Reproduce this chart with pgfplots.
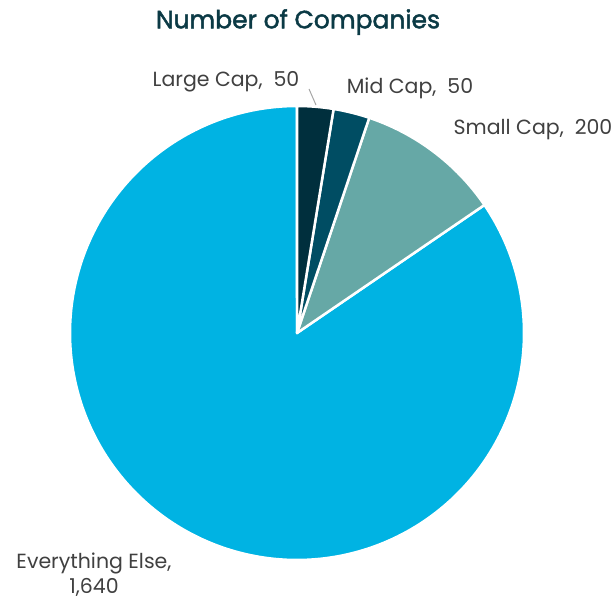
\documentclass[border=0pt]{standalone}
\usepackage{pgfplots}
\pgfplotsset{compat=1.18}
\usepackage{fontspec}
\setmainfont{Poppins}
\newfontfamily\titlefont[FakeBold=1.8]{Poppins}
\definecolor{cLarge}{HTML}{002F3D}
\definecolor{cMid}{HTML}{004D63}
\definecolor{cSmall}{HTML}{66A8A6}
\definecolor{cElse}{HTML}{00B3E3}
\definecolor{cTitle}{HTML}{0B3A45}
\definecolor{cLabel}{HTML}{404040}
% data
\def\vLarge{50}
\def\vMid{50}
\def\vSmall{200}
\def\vElse{1640}
\pgfmathsetmacro{\tot}{\vLarge+\vMid+\vSmall+\vElse}
\pgfmathsetmacro{\aA}{90}
\pgfmathsetmacro{\aB}{\aA-360*(\vLarge/\tot)}
\pgfmathsetmacro{\aC}{\aB-360*(\vMid/\tot)}
\pgfmathsetmacro{\aD}{\aC-360*(\vSmall/\tot)}
\pgfmathsetmacro{\aE}{\aD-360*(\vElse/\tot)}
\def\cx{297}
\def\cy{267}
\def\R{227}
\begin{document}
\begin{tikzpicture}
\begin{axis}[
  width=616pt, height=600pt, scale only axis,
  xmin=0, xmax=616, ymin=0, ymax=600,
  hide axis, clip=false,
]
\draw[draw=none] (rel axis cs:0,0) rectangle (rel axis cs:1,1);
\addplot[fill=cElse, draw=white, line width=2.5pt, line join=round, domain=\aE:\aD, samples=240]
  ({\cx+\R*cos(x)},{\cy+\R*sin(x)}) -- (axis cs:\cx,\cy) -- cycle;
\addplot[fill=cSmall, draw=white, line width=2.5pt, line join=round, domain=\aD:\aC, samples=60]
  ({\cx+\R*cos(x)},{\cy+\R*sin(x)}) -- (axis cs:\cx,\cy) -- cycle;
\addplot[fill=cMid, draw=white, line width=2.5pt, line join=round, domain=\aC:\aB, samples=30]
  ({\cx+\R*cos(x)},{\cy+\R*sin(x)}) -- (axis cs:\cx,\cy) -- cycle;
\addplot[fill=cLarge, draw=white, line width=2.5pt, line join=round, domain=\aB:\aA, samples=30]
  ({\cx+\R*cos(x)},{\cy+\R*sin(x)}) -- (axis cs:\cx,\cy) -- cycle;
\draw[color=gray!70, line width=1pt] (axis cs:316,495) -- (axis cs:309,511);
\node[font=\fontsize{25}{30}\selectfont\titlefont, text=cTitle] at (axis cs:298,578) {Number of Companies};
\node[font=\fontsize{20.5}{24}\selectfont, text=cLabel] at (axis cs:226,518) {Large Cap,\ \ 50};
\node[font=\fontsize{20.5}{24}\selectfont, text=cLabel] at (axis cs:410,512) {Mid Cap,\ \ 50};
\node[font=\fontsize{20.5}{24}\selectfont, text=cLabel] at (axis cs:533,470) {Small Cap,\ \ 200};
\node[font=\fontsize{20.5}{25}\selectfont, text=cLabel, align=center] at (axis cs:94,25) {Everything Else,\\1,640};
\end{axis}
\end{tikzpicture}
\end{document}
